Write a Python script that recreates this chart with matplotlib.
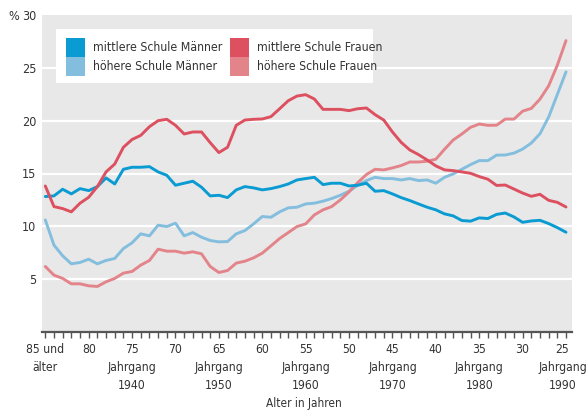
import matplotlib
matplotlib.use("Agg")
import matplotlib.pyplot as plt
from matplotlib.patches import Rectangle
from matplotlib.ticker import MultipleLocator

plt.rcParams['font.family'] = ['DejaVu Sans']
plt.rcParams['font.stretch'] = 'condensed'

# Alter 85 (und älter) bis 25, ein Wert pro Jahr
ages = list(range(85, 24, -1))

mittlere_maenner = [12.82, 12.88, 13.51, 13.07, 13.57, 13.38, 13.76, 14.58, 14.01, 15.40,
                    15.59, 15.59, 15.65, 15.15, 14.83, 13.89, 14.08, 14.27, 13.70, 12.88,
                    12.94, 12.72, 13.45, 13.76, 13.64, 13.45, 13.57, 13.76, 14.01, 14.39,
                    14.52, 14.64, 13.95, 14.08, 14.08, 13.82, 13.89, 14.08, 13.32, 13.38,
                    13.07, 12.72, 12.44, 12.12, 11.81, 11.56, 11.18, 10.99, 10.55, 10.49,
                    10.80, 10.74, 11.13, 11.26, 10.89, 10.38, 10.51, 10.57, 10.26, 9.88,
                    9.44]
hoehere_maenner = [10.61, 8.22, 7.21, 6.45, 6.58, 6.89, 6.45, 6.77, 6.96, 7.90,
                   8.44, 9.29, 9.10, 10.11, 9.98, 10.30, 9.10, 9.41, 8.97, 8.66,
                   8.53, 8.56, 9.29, 9.60, 10.23, 10.93, 10.86, 11.37, 11.75, 11.81,
                   12.12, 12.19, 12.38, 12.63, 12.94, 13.32, 13.89, 14.33, 14.64, 14.52,
                   14.52, 14.39, 14.52, 14.33, 14.39, 14.08, 14.64, 14.96, 15.40, 15.84,
                   16.22, 16.22, 16.74, 16.75, 16.93, 17.31, 17.88, 18.76, 20.34, 22.48,
                   24.62]
mittlere_frauen = [13.82, 11.87, 11.68, 11.37, 12.19, 12.75, 13.76, 15.15, 15.90, 17.48,
                   18.22, 18.61, 19.43, 20.00, 20.13, 19.56, 18.74, 18.93, 18.93, 17.92,
                   16.98, 17.48, 19.56, 20.06, 20.13, 20.16, 20.38, 21.13, 21.89, 22.33,
                   22.46, 22.05, 21.07, 21.07, 21.07, 20.95, 21.13, 21.20, 20.57, 20.06,
                   18.93, 17.95, 17.23, 16.79, 16.28, 15.72, 15.34, 15.27, 15.15, 15.02,
                   14.71, 14.46, 13.87, 13.91, 13.53, 13.15, 12.84, 13.03, 12.46, 12.27,
                   11.83]
hoehere_frauen = [6.20, 5.38, 5.07, 4.56, 4.56, 4.37, 4.31, 4.75, 5.07, 5.57,
                  5.73, 6.33, 6.77, 7.84, 7.65, 7.65, 7.46, 7.59, 7.40, 6.20,
                  5.63, 5.82, 6.52, 6.70, 7.02, 7.46, 8.15, 8.85, 9.41, 9.98,
                  10.23, 11.08, 11.56, 11.87, 12.50, 13.26, 14.14, 14.90, 15.40, 15.34,
                  15.53, 15.75, 16.09, 16.09, 16.16, 16.35, 17.29, 18.17, 18.74, 19.37,
                  19.68, 19.56, 19.57, 20.15, 20.15, 20.90, 21.16, 22.04, 23.30, 25.25,
                  27.58]

series_names = ['mittlere Schule Männer', 'höhere Schule Männer',
                'mittlere Schule Frauen', 'höhere Schule Frauen']
colors = ['#0a9bd2', '#84bede', '#dc5060', '#e3848a']

x_ticks = [85, 80, 75, 70, 65, 60, 55, 50, 45, 40, 35, 30, 25]
x_ticklabels = ['85 und\nälter', '80', '75\nJahrgang\n1940', '70', '65\nJahrgang\n1950',
                '60', '55\nJahrgang\n1960', '50', '45\nJahrgang\n1970', '40',
                '35\nJahrgang\n1980', '30', '25\nJahrgang\n1990']
y_ticks = [5, 10, 15, 20, 25, 30]

W, H = 588, 412
text_color = '#333333'
fs = 8.5

fig = plt.figure(figsize=(W / 100, H / 100), dpi=100)
ax = fig.add_axes([42 / W, 1 - 332 / H, 530 / W, 317 / H])
ax.set_facecolor('#e8e8e8')
ax.set_xlim(85.38, 24.31)
ax.set_ylim(0, 30)

for y in y_ticks[:-1]:
    ax.axhline(y, color='white', lw=1.6, zorder=1)

data = [mittlere_maenner, hoehere_maenner, mittlere_frauen, hoehere_frauen]
for idx in [1, 3, 0, 2]:
    ax.plot(ages, data[idx], color=colors[idx], lw=2.1, zorder=3,
            solid_joinstyle='round', solid_capstyle='round')

for side in ['top', 'left', 'right']:
    ax.spines[side].set_visible(False)
ax.spines['bottom'].set_color('#555555')
ax.spines['bottom'].set_linewidth(1.6)

# die letzte Beschriftung wird separat gesetzt, leicht nach links versetzt
ax.set_xticks(x_ticks)
ax.set_xticklabels(x_ticklabels[:-1] + [''], fontsize=fs + 0.2, color=text_color,
                   linespacing=1.5)
ax.annotate(x_ticklabels[-1], xy=(x_ticks[-1], 0), xycoords=('data', 'axes fraction'),
            xytext=(-2.5, -8), textcoords='offset points', ha='center', va='top',
            fontsize=fs + 0.2, color=text_color, linespacing=1.5,
            multialignment='center', annotation_clip=False)
ax.xaxis.set_minor_locator(MultipleLocator(1))
ax.tick_params(axis='x', which='both', direction='out', length=4, width=1,
               color='#555555', pad=4)
ax.set_yticks(y_ticks)
ax.set_yticklabels([str(v) for v in y_ticks], fontsize=fs + 0.5, color=text_color)
ax.tick_params(axis='y', length=0, pad=4)

fig.text(14 / W, 1 - 16 / H, '%', fontsize=fs + 0.5, color=text_color, ha='center', va='center')
fig.text(304 / W, 1 - 404 / H, 'Alter in Jahren', fontsize=fs, color=text_color,
         ha='center', va='center')

# Legende: weißer Kasten mit zwei Spalten
def px(x, y):
    return x / W, 1 - y / H

fig.add_artist(Rectangle(px(56, 83), 317 / W, 54 / H, facecolor='white',
                         edgecolor='none', transform=fig.transFigure, zorder=5))
legend_pos = [(66, 37.5), (66, 56.5), (230, 37.5), (230, 56.5)]
for (lx, ly), name, col in zip(legend_pos, series_names, colors):
    fig.add_artist(Rectangle(px(lx, ly + 19), 19 / W, 19 / H, facecolor=col,
                             edgecolor='none', transform=fig.transFigure, zorder=6))
    fig.text(*px(lx + 27, ly + 10), name, fontsize=fs + 0.3, color=text_color,
             ha='left', va='center', zorder=7)

fig.savefig('out.png', dpi=100)
